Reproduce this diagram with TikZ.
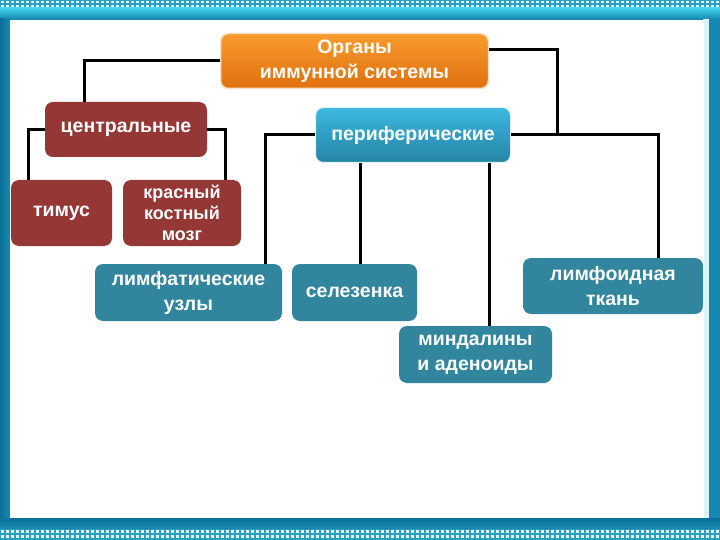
\documentclass[tikz,border=0pt]{standalone}
\usepackage{fontspec}
\setmainfont{Liberation Sans}
\definecolor{frameblue}{HTML}{1689B2}
\definecolor{framedark}{HTML}{0C6F96}
\definecolor{framecyan}{HTML}{43D3EC}
\definecolor{checkbg}{HTML}{2A9FC0}
\definecolor{redbox}{HTML}{953735}
\definecolor{tealbox}{HTML}{31859C}
\definecolor{orangetop}{HTML}{F99B2D}
\definecolor{orangebot}{HTML}{DF700F}
\definecolor{orangeedge}{HTML}{FCE2C2}
\definecolor{pertop}{HTML}{3CB8E2}
\definecolor{perbot}{HTML}{2584A3}
\tikzset{
  boxbase/.style={rounded corners=8pt, inner sep=2pt, align=center, text=white,
    font=\bfseries\fontsize{19.5}{24}\selectfont},
  redstyle/.style={boxbase, fill=redbox},
  tealstyle/.style={boxbase, fill=tealbox},
  orgstyle/.style={boxbase, top color=orangetop, bottom color=orangebot, draw=orangeedge, line width=1.5pt},
  perstyle/.style={boxbase, top color=pertop, bottom color=perbot, draw=white!85!pertop, line width=1pt},
  conn/.style={draw=black, line width=3pt}
}
\begin{document}
\begin{tikzpicture}[x=1pt,y=-1pt]
\useasboundingbox (0,0) rectangle (720,540);
% frame
\fill[frameblue] (0,0) rectangle (720,540);
\fill[checkbg] (0,0) rectangle (720,8);
\fill[checkbg] (0,528) rectangle (720,540);
\foreach \i in {0,...,143}{
  \fill[white!85!framecyan] (\i*5+1,1) rectangle ++(3,2.5);
  \fill[white!85!framecyan] (\i*5+1,5) rectangle ++(3,2.5);
  \fill[white!85!framecyan] (\i*5+1,530) rectangle ++(3,2.5);
  \fill[white!85!framecyan] (\i*5+1,535) rectangle ++(3,2.5);
}
\shade[top color=framecyan, bottom color=frameblue] (0,8) rectangle (720,19);
\shade[top color=framedark, bottom color=frameblue] (0,518) rectangle (720,528);
\shade[left color=framedark, right color=frameblue] (0,19) rectangle (10,518);
\fill[white!80!framecyan] (703,19) rectangle (709,518);
\fill[white] (10,20) rectangle (704,518);
% nodes
\node[orgstyle, minimum width=268pt, minimum height=55pt, font=\bfseries\fontsize{19.5}{25}\selectfont] (org) at (354.5,61) {Органы\\иммунной системы};
\node[redstyle, minimum width=162pt, minimum height=55pt] (cen) at (126,129.5) {центральные};
\node[redstyle, minimum width=101pt, minimum height=66pt] (tim) at (61.5,213) {тимус};
\node[redstyle, minimum width=118pt, minimum height=66pt, font=\bfseries\fontsize{18}{21}\selectfont] (kbm) at (182,213) {красный\\костный\\мозг};
\node[perstyle, minimum width=195pt, minimum height=55pt] (per) at (413,135) {периферические};
\node[tealstyle, minimum width=187pt, minimum height=57pt, font=\bfseries\fontsize{19.5}{25}\selectfont] (lym) at (188.5,292.5) {лимфатические\\узлы};
\node[tealstyle, minimum width=125pt, minimum height=57pt] (sel) at (354.5,292.5) {селезенка};
\node[tealstyle, minimum width=180pt, minimum height=56pt, font=\bfseries\fontsize{19.5}{25}\selectfont] (lt) at (613,286) {лимфоидная\\ткань};
\node[tealstyle, minimum width=153pt, minimum height=57pt, font=\bfseries\fontsize{19.5}{25}\selectfont] (mnd) at (475.5,354.5) {миндалины\\и аденоиды};
\coordinate (jn) at (557,135);
% connectors
\draw[conn] (org.west) -| ([xshift=-42pt]cen.north);
\draw[conn] ([yshift=11pt]org.east) -| (jn);
\draw[conn] (per.east) -| ([xshift=45pt]lt.north);
\draw[conn] (cen.west) -| ([xshift=-33.5pt]tim.north);
\draw[conn] (cen.east) -| ([xshift=43pt]kbm.north);
\draw[conn] (per.west) -| ([xshift=76.5pt]lym.north);
\draw[conn] ([xshift=5.5pt]sel.north) -- ([xshift=5.5pt]sel.north |- per.south);
\draw[conn] ([xshift=13.5pt]mnd.north) -- ([xshift=13.5pt]mnd.north |- per.south);
\end{tikzpicture}
\end{document}
